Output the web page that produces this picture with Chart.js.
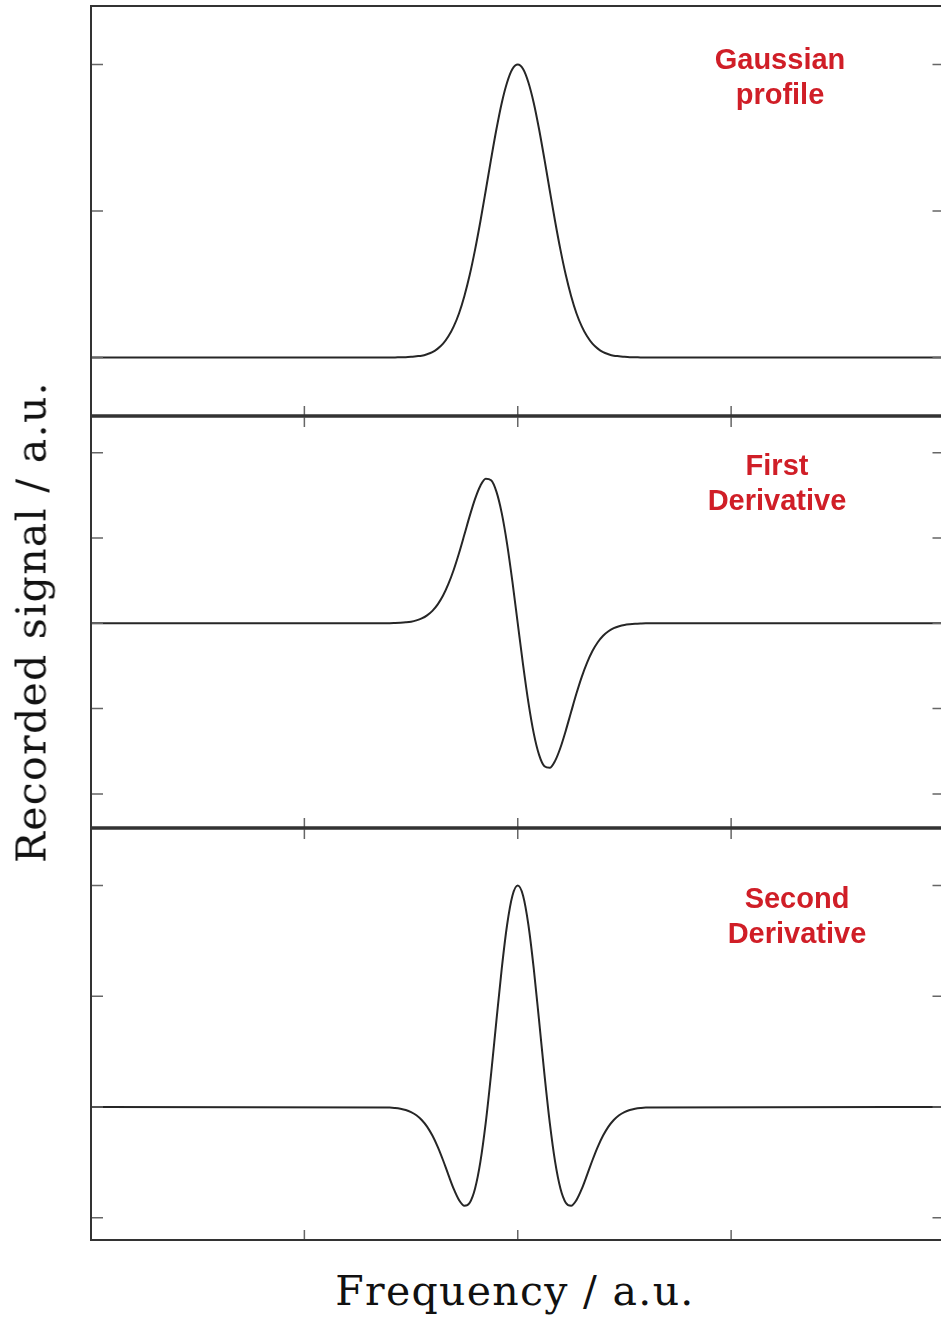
<!DOCTYPE html>
<html>
<head>
<meta charset="utf-8">
<title>Gaussian profile and its derivatives</title>
<script src="https://cdn.jsdelivr.net/npm/chart.js@4.4.1/dist/chart.umd.min.js"></script>
<style>
  html, body { margin: 0; padding: 0; background: #fff; }
  #page { position: relative; width: 941px; height: 1326px; overflow: hidden; }
  canvas { position: absolute; left: 0; }
  .tag {
    position: absolute; width: 220px; text-align: center;
    font: bold 29px "Liberation Sans", Arial, sans-serif; line-height: 35px;
    color: #d01e27;
  }
  .axis-title {
    position: absolute; font: 41px "DejaVu Serif", serif; line-height: 41px;
    letter-spacing: 1.3px; color: #111; white-space: nowrap;
  }
</style>
</head>
<body>
<div id="page">
  <canvas id="gauss" width="946" height="430" style="top:0"></canvas>
  <canvas id="first" width="946" height="432" style="top:406px"></canvas>
  <canvas id="second" width="946" height="432" style="top:818px"></canvas>

  <div class="tag" style="left:670px; top:42px">Gaussian<br>profile</div>
  <div class="tag" style="left:667px; top:448px">First<br>Derivative</div>
  <div class="tag" style="left:687px; top:881px">Second<br>Derivative</div>

  <div class="axis-title" id="xTitle" style="left:515px; top:1271px; transform:translateX(-50%)">Frequency / a.u.</div>
  <div class="axis-title" id="yTitle" style="left:32px; top:622px; transform:translate(-50%,-50%) rotate(-90deg)">Recorded signal / a.u.</div>
</div>

<script>
// frequency axis (a.u.), dense around the line centre
const freq = [0,
  1.400, 1.425, 1.450, 1.475, 1.500, 1.525, 1.550, 1.575, 1.600, 1.625, 1.650, 1.675,
  1.700, 1.725, 1.750, 1.775, 1.800, 1.825, 1.850, 1.875, 1.900, 1.925, 1.950, 1.975,
  2.000,
  2.025, 2.050, 2.075, 2.100, 2.125, 2.150, 2.175, 2.200, 2.225, 2.250, 2.275, 2.300,
  2.325, 2.350, 2.375, 2.400, 2.425, 2.450, 2.475, 2.500, 2.525, 2.550, 2.575, 2.600,
  4];

const gaussian = [0,
  0, 0, 0.001, 0.001, 0.002, 0.004, 0.006, 0.011, 0.018, 0.030, 0.047, 0.072,
  0.106, 0.151, 0.210, 0.282, 0.368, 0.465, 0.570, 0.677, 0.779, 0.869, 0.939, 0.985,
  1,
  0.985, 0.939, 0.869, 0.779, 0.677, 0.570, 0.465, 0.368, 0.282, 0.210, 0.151, 0.106,
  0.072, 0.047, 0.030, 0.018, 0.011, 0.006, 0.004, 0.002, 0.001, 0.001, 0, 0,
  0];

const firstDeriv = [0,
  0.001, 0.003, 0.006, 0.011, 0.019, 0.034, 0.057, 0.093, 0.146, 0.222, 0.325, 0.461,
  0.628, 0.824, 1.040, 1.259, 1.459, 1.613, 1.694, 1.676, 1.543, 1.291, 0.931, 0.488,
  0,
  -0.488, -0.931, -1.291, -1.543, -1.676, -1.694, -1.613, -1.459, -1.259, -1.040, -0.824, -0.628,
  -0.461, -0.325, -0.222, -0.146, -0.093, -0.057, -0.034, -0.019, -0.011, -0.006, -0.003, -0.001,
  0];

const secondDeriv = [0,
  -0.004, -0.008, -0.015, -0.026, -0.045, -0.073, -0.116, -0.176, -0.257, -0.359, -0.480, -0.612,
  -0.739, -0.840, -0.891, -0.863, -0.735, -0.493, -0.141, 0.297, 0.780, 1.250, 1.644, 1.908,
  2,
  1.908, 1.644, 1.250, 0.780, 0.297, -0.141, -0.493, -0.735, -0.863, -0.891, -0.840, -0.739,
  -0.612, -0.480, -0.359, -0.257, -0.176, -0.116, -0.073, -0.045, -0.026, -0.015, -0.008, -0.004,
  0];

// tick marks (no labels)
const freqTicks = [1, 2, 3];
const gaussTicks = [0, 0.5, 1];
const firstTicks = [-2, -1, 0, 1, 2];
const secondTicks = [-1, 0, 1, 2];

// inward ticks + box around each panel
const framePlugin = {
  id: 'frame',
  afterDraw(chart, args, opts) {
    const { ctx, chartArea: a, scales: { x, y } } = chart;
    ctx.save();
    ctx.strokeStyle = '#666';
    ctx.lineWidth = 1.5;
    ctx.beginPath();
    opts.yTicks.forEach(v => {
      const py = y.getPixelForValue(v);
      ctx.moveTo(a.left, py); ctx.lineTo(a.left + 12, py);
      ctx.moveTo(a.right, py); ctx.lineTo(a.right - 12, py);
    });
    freqTicks.forEach(v => {
      const px = x.getPixelForValue(v);
      ctx.moveTo(px, a.bottom); ctx.lineTo(px, a.bottom - 10);
      if (opts.topTicks) { ctx.moveTo(px, a.top); ctx.lineTo(px, a.top + 11); }
    });
    ctx.stroke();

    ctx.strokeStyle = '#333';
    const edge = (w, x1, y1, x2, y2) => {
      ctx.lineWidth = w;
      ctx.beginPath(); ctx.moveTo(x1, y1); ctx.lineTo(x2, y2); ctx.stroke();
    };
    edge(opts.topWidth, a.left - 1, a.top, a.right, a.top);
    edge(opts.bottomWidth, a.left - 1, a.bottom, a.right, a.bottom);
    edge(2, a.left, a.top, a.left, a.bottom);
    edge(2, a.right, a.top, a.right, a.bottom);
    ctx.restore();
  }
};

function makePanel(id, values, yMin, yMax, yTicks, frame) {
  new Chart(document.getElementById(id), {
    type: 'line',
    data: {
      datasets: [{
        data: freq.map((f, i) => ({ x: f, y: values[i] })),
        borderColor: '#262626',
        borderWidth: 2,
        pointRadius: 0,
        cubicInterpolationMode: 'monotone',
        fill: false
      }]
    },
    options: {
      responsive: false,
      animation: false,
      events: [],
      layout: { padding: { left: 91, right: 1.5, top: frame.padTop, bottom: frame.padBottom } },
      plugins: {
        legend: { display: false },
        tooltip: { enabled: false },
        frame: { yTicks, ...frame }
      },
      scales: {
        x: { type: 'linear', min: 0, max: 4, display: false },
        y: { min: yMin, max: yMax, display: false }
      }
    },
    plugins: [framePlugin]
  });
}

makePanel('gauss', gaussian, -0.2, 1.2, gaussTicks,
  { padTop: 6, padBottom: 14, topWidth: 2, bottomWidth: 3, topTicks: false });
makePanel('first', firstDeriv, -2.4, 2.43, firstTicks,
  { padTop: 10, padBottom: 10, topWidth: 3, bottomWidth: 3, topTicks: true });
makePanel('second', secondDeriv, -1.2, 2.52, secondTicks,
  { padTop: 10, padBottom: 10, topWidth: 3, bottomWidth: 2, topTicks: true });
</script>
</body>
</html>
